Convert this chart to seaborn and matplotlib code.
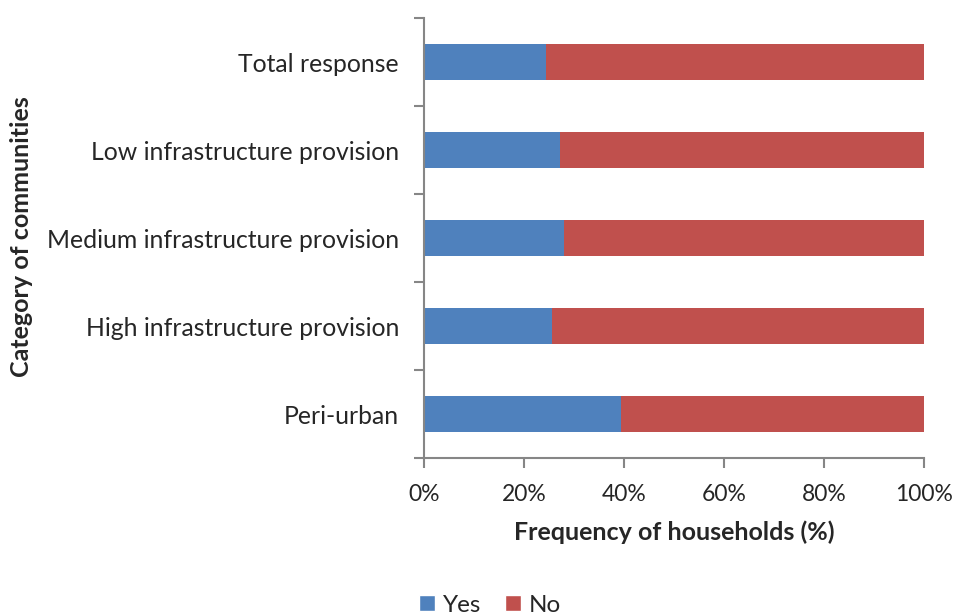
import matplotlib
matplotlib.use("Agg")
import matplotlib.pyplot as plt
import seaborn as sns
import pandas as pd
from matplotlib.ticker import FixedLocator, FuncFormatter
from matplotlib.patches import Patch

categories = ["Total response", "Low infrastructure provision",
              "Medium infrastructure provision", "High infrastructure provision",
              "Peri-urban"]
yes_pct = [24.3, 27.1, 27.9, 25.5, 39.3]
no_pct = [75.7, 72.9, 72.1, 74.5, 60.7]
x_ticks = [0, 20, 40, 60, 80, 100]

sns.set_style("white")
plt.rcParams['font.family'] = ['Lato', 'DejaVu Sans']

df = pd.DataFrame({"cat": categories, "yes": yes_pct, "no": no_pct})
df["total"] = df["yes"] + df["no"]

BLUE = "#4F81BD"
RED = "#C0504D"
GRAY = "#868686"

fig = plt.figure(figsize=(9.57, 6.14), dpi=100)
ax = fig.add_axes([424/957, 1 - 458/614, 500/957, 440/614])

sns.barplot(data=df, x="total", y="cat", color=RED, orient="h", width=0.4,
            saturation=1, linewidth=0, ax=ax)
sns.barplot(data=df, x="yes", y="cat", color=BLUE, orient="h", width=0.4,
            saturation=1, linewidth=0, ax=ax)

ax.set_xlim(0, 100)
ax.set_ylim(len(categories) - 0.5, -0.5)
ax.set_xticks(x_ticks)
ax.xaxis.set_major_formatter(FuncFormatter(lambda v, p: f"{int(v)}%"))
ax.yaxis.set_minor_locator(FixedLocator([i - 0.5 for i in range(len(categories) + 1)]))
ax.tick_params(axis="y", which="major", length=0, pad=18, labelsize=17.8)
ax.tick_params(axis="y", which="minor", length=7, width=1.5, color=GRAY, direction="out", left=True)
ax.tick_params(axis="x", which="major", length=7, width=1.5, color=GRAY, direction="out",
               bottom=True, labelsize=16.5, pad=12)

for s in ["top", "right"]:
    ax.spines[s].set_visible(False)
for s in ["left", "bottom"]:
    ax.spines[s].set_color(GRAY)
    ax.spines[s].set_linewidth(1.5)

ax.set_xlabel("Frequency of households (%)", fontsize=18, fontweight="bold", labelpad=11)
ax.set_ylabel("")
fig.text(22/957, 1 - 237/614, "Category of communities", rotation=90, fontsize=18,
         fontweight="bold", ha="center", va="center")

handles = [Patch(facecolor=BLUE, label="Yes"), Patch(facecolor=RED, label="No")]
fig.legend(handles=handles, loc="center", bbox_to_anchor=(490/957, 1 - 605/614), ncol=2,
           frameon=False, fontsize=17.5, handlelength=0.65, handleheight=0.65,
           handletextpad=0.3, columnspacing=1.0)

fig.savefig("out.png", dpi=100)
